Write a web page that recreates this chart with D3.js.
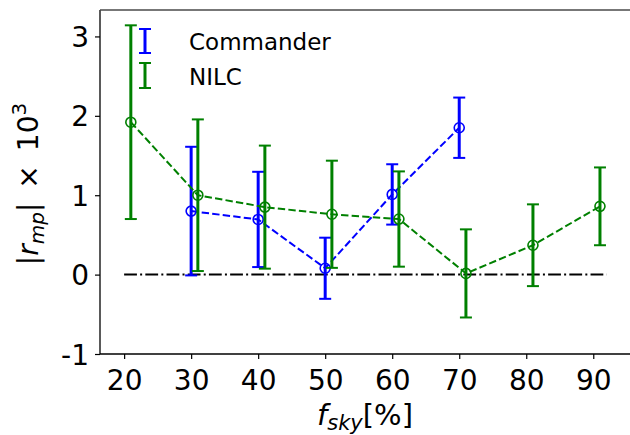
<!DOCTYPE html>
<html>
<head>
<meta charset="utf-8">
<script src="https://cdn.jsdelivr.net/npm/d3@7"></script>
<style>
  html, body { margin: 0; padding: 0; background: #fff; }
  svg { display: block; font-family: "DejaVu Sans", sans-serif; }
</style>
</head>
<body>
<svg id="chart" width="630" height="435"></svg>
<script>
// Sky fraction (%) and |r_mp| x 10^3 with 1-sigma errors
const fskyCommander = [30, 40, 50, 60, 70];
const rCommander    = [0.80, 0.695, 0.08, 1.01, 1.85];
const errCommander  = [0.81, 0.60, 0.385, 0.38, 0.38];

const fskyNILC = [21, 31, 41, 51, 61, 71, 81, 91];
const rNILC    = [1.92, 1.00, 0.85, 0.76, 0.70, 0.015, 0.37, 0.86];
const errNILC  = [1.22, 0.955, 0.775, 0.675, 0.60, 0.555, 0.515, 0.49];

const xTicks = [20, 30, 40, 50, 60, 70, 80, 90];
const yTicks = [-1, 0, 1, 2, 3];
const yTickLabels = ["-1", "0", "1", "2", "3"];
const zeroLine = [20, 92];

const series = [
  { name: "Commander", color: "#0000ff", x: fskyCommander, y: rCommander, e: errCommander },
  { name: "NILC",      color: "#008000", x: fskyNILC,      y: rNILC,      e: errNILC }
];

const svg = d3.select("#chart");
const pLeft = 100, pRight = 630.8, pTop = 10, pBottom = 354;

const x = d3.scaleLinear().domain([16.4, 95.6]).range([pLeft, pRight]);
const y = d3.scaleLinear().domain([-1, 3.333]).range([pBottom, pTop]);

// clip for plot area
svg.append("defs").append("clipPath").attr("id", "plotclip")
  .append("rect").attr("x", pLeft).attr("y", pTop).attr("width", pRight - pLeft).attr("height", pBottom - pTop);

const plot = svg.append("g").attr("clip-path", "url(#plotclip)");

// zero reference line
plot.append("line")
  .attr("x1", x(zeroLine[0])).attr("x2", x(zeroLine[1]))
  .attr("y1", y(0)).attr("y2", y(0))
  .attr("stroke", "#000").attr("stroke-width", 2)
  .attr("stroke-dasharray", "12.8,3.2,2,3.2");

const capHalf = 6;
series.forEach(s => {
  const g = plot.append("g");
  const pts = s.x.map((d, i) => ({ x: d, y: s.y[i], e: s.e[i] }));
  // dashed connecting line
  g.append("path")
    .datum(pts)
    .attr("fill", "none")
    .attr("stroke", s.color)
    .attr("stroke-width", 2)
    .attr("stroke-dasharray", "7.4,3.2")
    .attr("d", d3.line().x(d => x(d.x)).y(d => y(d.y)));
  // error bars
  const eb = g.selectAll(".eb").data(pts).enter().append("g");
  eb.append("line")
    .attr("x1", d => x(d.x)).attr("x2", d => x(d.x))
    .attr("y1", d => y(d.y - d.e)).attr("y2", d => y(d.y + d.e))
    .attr("stroke", s.color).attr("stroke-width", 3);
  [-1, 1].forEach(sg => {
    eb.append("line")
      .attr("x1", d => x(d.x) - capHalf).attr("x2", d => x(d.x) + capHalf)
      .attr("y1", d => y(d.y + sg * d.e)).attr("y2", d => y(d.y + sg * d.e))
      .attr("stroke", s.color).attr("stroke-width", 2);
  });
  // open circle markers
  g.selectAll("circle").data(pts).enter().append("circle")
    .attr("cx", d => x(d.x)).attr("cy", d => y(d.y)).attr("r", 5)
    .attr("fill", "none").attr("stroke", s.color).attr("stroke-width", 1.6);
});

// axes
const xAxis = svg.append("g").attr("transform", `translate(0,${pBottom})`)
  .call(d3.axisBottom(x).tickValues(xTicks).tickSize(5).tickPadding(5).tickFormat(d3.format("d")));
const yAxis = svg.append("g").attr("transform", `translate(${pLeft},0)`)
  .call(d3.axisLeft(y).tickValues(yTicks).tickSize(5).tickPadding(6).tickFormat((d, i) => yTickLabels[i]));
[xAxis, yAxis].forEach(a => {
  a.select(".domain").remove();
  a.selectAll(".tick line").attr("stroke", "#000").attr("stroke-width", 1.2);
  a.selectAll(".tick text").attr("fill", "#000").style("font-size", "28px")
    .style("font-family", "'DejaVu Sans', sans-serif");
});
xAxis.selectAll(".tick text").attr("dy", "0.93em");
yAxis.selectAll(".tick text").attr("dy", "0.36em");

// spines
svg.append("line").attr("x1", pLeft).attr("x2", pLeft).attr("y1", pTop).attr("y2", pBottom)
  .attr("stroke", "#000").attr("stroke-width", 1.3);
svg.append("line").attr("x1", pLeft).attr("x2", 630).attr("y1", pBottom).attr("y2", pBottom)
  .attr("stroke", "#000").attr("stroke-width", 1.3);
svg.append("line").attr("x1", pLeft).attr("x2", 630).attr("y1", pTop).attr("y2", pTop)
  .attr("stroke", "#4a4a4a").attr("stroke-width", 1.6);

// legend
const legend = svg.append("g");
const legendRows = [
  { s: series[0], y0: 29, y1: 53, ty: 50 },
  { s: series[1], y0: 63, y1: 88, ty: 85 }
];
legendRows.forEach(r => {
  const cx = 145;
  legend.append("line").attr("x1", cx).attr("x2", cx).attr("y1", r.y0).attr("y2", r.y1)
    .attr("stroke", r.s.color).attr("stroke-width", 3);
  [r.y0, r.y1].forEach(yy => legend.append("line")
    .attr("x1", cx - 6).attr("x2", cx + 6).attr("y1", yy).attr("y2", yy)
    .attr("stroke", r.s.color).attr("stroke-width", 2));
  legend.append("text").attr("x", 189).attr("y", r.ty)
    .style("font-size", "23px").attr("fill", "#000").text(r.s.name);
});

// x label: f_sky[%]
const xl = svg.append("text").attr("x", 365).attr("y", 425)
  .attr("text-anchor", "middle").style("font-size", "29px").attr("fill", "#000");
xl.append("tspan").style("font-style", "italic").text("f");
xl.append("tspan").style("font-style", "italic").style("font-size", "21px").attr("dy", 5).text("sky");
xl.append("tspan").attr("dy", -5).text("[%]");

// y label: |r_mp| × 10^3
const yl = svg.append("text").attr("transform", "translate(38,184) rotate(-90)")
  .attr("text-anchor", "middle").style("font-size", "28px").attr("fill", "#000");
yl.append("tspan").text("|");
yl.append("tspan").style("font-style", "italic").text("r");
yl.append("tspan").style("font-style", "italic").style("font-size", "20px").attr("dy", 6).text("mp");
yl.append("tspan").attr("dy", -6).text("|");
yl.append("tspan").text("\u2002\u00d7\u200210");
yl.append("tspan").style("font-size", "20px").attr("dy", -12).text("3");
</script>
</body>
</html>
